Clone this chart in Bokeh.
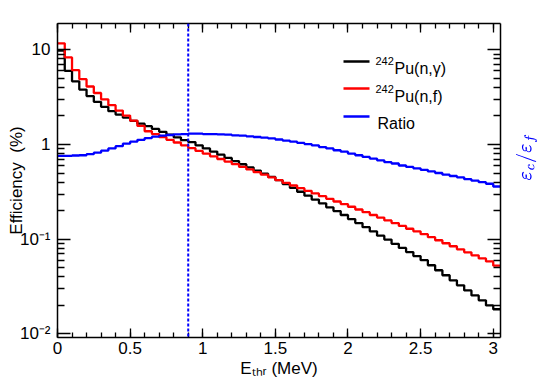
import math
from bokeh.plotting import figure
from bokeh.models import (Range1d, LinearAxis, LogAxis, FixedTicker, Span, Label,
                          BoxAnnotation, CustomJSTickFormatter, TeX)
from bokeh.embed import file_html
from bokeh.resources import INLINE

# ---------------- data ----------------
bin_width = 0.05
bin_lo = [round(i * bin_width, 2) for i in range(61)]   # lower bin edges (MeV)

eff_ng = [9.8, 6.0, 4.65, 3.8, 3.25, 2.82, 2.50, 2.25, 2.07, 1.92,
          1.78, 1.66, 1.56, 1.46, 1.36, 1.27, 1.19, 1.11, 1.06, 0.98,
          0.91, 0.843, 0.780, 0.722, 0.669, 0.619, 0.574, 0.531, 0.492, 0.455,
          0.42, 0.382, 0.348, 0.317, 0.288, 0.262, 0.239, 0.217, 0.198, 0.180,
          0.163, 0.148, 0.134, 0.121, 0.109, 0.099, 0.0894, 0.0809, 0.0732, 0.0663,
          0.060, 0.0531, 0.0470, 0.0416, 0.0368, 0.0326, 0.0288, 0.0255, 0.0226, 0.0200,
          0.0182]

eff_nf = [11.7, 8.3, 6.1, 4.9, 4.1, 3.5, 3.0, 2.6, 2.28, 2.02,
          1.79, 1.57, 1.38, 1.29, 1.20, 1.12, 1.05, 0.98, 0.915, 0.855,
          0.80, 0.75, 0.703, 0.66, 0.62, 0.58, 0.545, 0.51, 0.48, 0.45,
          0.42, 0.394, 0.369, 0.346, 0.324, 0.304, 0.285, 0.267, 0.25, 0.235,
          0.22, 0.206, 0.193, 0.18, 0.169, 0.158, 0.148, 0.138, 0.129, 0.121,
          0.113, 0.105, 0.0975, 0.0906, 0.0842, 0.0782, 0.0727, 0.0675, 0.0627, 0.0583,
          0.0525]

ratio = [0.76, 0.76, 0.765, 0.77, 0.79, 0.82, 0.86, 0.91, 0.96, 1.02,
         1.07, 1.12, 1.17, 1.21, 1.24, 1.26, 1.28, 1.29, 1.30, 1.30,
         1.29, 1.29, 1.28, 1.27, 1.25, 1.24, 1.22, 1.20, 1.18, 1.16,
         1.13, 1.10, 1.07, 1.04, 1.01, 0.98, 0.94, 0.91, 0.87, 0.84,
         0.80, 0.77, 0.74, 0.71, 0.68, 0.65, 0.63, 0.60, 0.58, 0.56,
         0.54, 0.52, 0.50, 0.48, 0.465, 0.45, 0.43, 0.415, 0.40, 0.385,
         0.36]

threshold = 0.9

x_ticks = [0.0, 0.5, 1.0, 1.5, 2.0, 2.5, 3.0]
x_tick_labels = ["0", "0.5", "1", "1.5", "2", "2.5", "3"]
x_minor = [round(0.1 * i, 1) for i in range(31)]
y_ticks = [0.01, 0.1, 1.0, 10.0]
y_tick_labels = ["10\u207b\u00b2", "10\u207b\u00b9", "1", "10"]
y_minor = [m * 10.0 ** k for k in (-2, -1, 0, 1) for m in range(2, 10)]

x_title = "E\u209c\u2095\u1d63 (MeV)"
y_title = "Efficiency\u00a0\u00a0(%)"
ratio_title = r"\varepsilon_{c}/\varepsilon_{f}"

FONT = "Liberation Sans"

# ---------------- figure ----------------
p = figure(width=556, height=387, output_backend="svg", toolbar_location=None,
           y_axis_type="log", x_range=Range1d(0, 3.05), y_range=Range1d(0.00916, 18.96),
           min_border_left=57, min_border_right=56, min_border_top=23, min_border_bottom=50)
p.outline_line_color = None
p.xgrid.visible = False
p.ygrid.visible = False
p.background_fill_color = "white"
p.border_fill_color = "white"

edges = bin_lo + [round(bin_lo[-1] + bin_width, 2)]
def stepped(v):
    return list(v) + [v[-1]]

p.step(edges, stepped(eff_ng), mode="after", line_color="black", line_width=2.3)
p.step(edges, stepped(eff_nf), mode="after", line_color="#ff0000", line_width=2.3)
p.step(edges, stepped(ratio), mode="after", line_color="#0000ff", line_width=2.3)

p.add_layout(Span(location=threshold, dimension="height", line_color="#0000ff",
                  line_dash="3 2", line_width=2))

def label_fmt(tvals, tlabels):
    return CustomJSTickFormatter(args=dict(tv=tvals, tl=tlabels), code="""
        for (let i = 0; i < tv.length; i++) {
            if (Math.abs(tv[i] - tick) <= 1e-9 * Math.max(1, Math.abs(tv[i]))) return tl[i];
        }
        return "";
    """)

blank_fmt = CustomJSTickFormatter(code="return '';")

def style_axis(ax, major_in, minor_in):
    ax.axis_line_color = "black"
    ax.axis_line_width = 1.5
    ax.major_tick_line_color = "black"
    ax.minor_tick_line_color = "black"
    ax.major_tick_line_width = 1.3
    ax.minor_tick_line_width = 1.3
    ax.major_tick_in = major_in
    ax.major_tick_out = 0
    ax.minor_tick_in = minor_in
    ax.minor_tick_out = 0
    ax.major_label_text_font = FONT
    ax.major_label_text_font_size = "17px"
    ax.major_label_text_color = "black"
    ax.axis_label_text_font = FONT
    ax.axis_label_text_font_size = "17px"
    ax.axis_label_text_font_style = "normal"
    ax.axis_label_text_color = "black"

xa = p.xaxis[0]
xa.ticker = FixedTicker(ticks=x_ticks, minor_ticks=x_minor)
xa.formatter = label_fmt(x_ticks, x_tick_labels)
style_axis(xa, 9, 5)
xa.major_label_standoff = 4
xa.axis_label = x_title
xa.axis_label_standoff = 2

ya = p.yaxis[0]
ya.ticker = FixedTicker(ticks=y_ticks, minor_ticks=y_minor)
ya.formatter = label_fmt(y_ticks, y_tick_labels)
style_axis(ya, 13, 7)
ya.major_label_standoff = 7
ya.axis_label = y_title
ya.axis_label_standoff = -9

top = LinearAxis(ticker=FixedTicker(ticks=x_ticks, minor_ticks=x_minor), formatter=blank_fmt)
style_axis(top, 9, 5)
top.major_label_text_font_size = "0px"
top.major_label_standoff = 0
p.add_layout(top, "above")

right = LogAxis(ticker=FixedTicker(ticks=y_ticks, minor_ticks=y_minor), formatter=blank_fmt)
style_axis(right, 13, 7)
right.major_label_text_font_size = "0px"
right.major_label_standoff = 0
right.axis_label = TeX(text=ratio_title)
right.axis_label_text_color = "#0000ff"
right.axis_label_text_font_size = "16px"
right.axis_label_standoff = 26
if "axis_label_orientation" in right.properties():
    right.axis_label_orientation = math.pi / 2
p.add_layout(right, "right")

def mk(x, y, text, size="17px", color="black"):
    return Label(x=x, y=y, x_units="screen", y_units="screen", text=text,
                 text_font=FONT, text_font_size=size, text_color=color,
                 text_align="left", text_baseline="alphabetic")

# legend (inside the frame)
legend_rows = [("black", "242", "Pu(n,\u03b3)", 276, 269),
               ("#ff0000", "242", "Pu(n,f)", 249, 241),
               ("#0000ff", "", "Ratio", 221, 214)]
for color, sup, txt, ly, by in legend_rows:
    p.add_layout(BoxAnnotation(left=286, right=312, bottom=ly - 1.2, top=ly + 1.2,
                               left_units="screen", right_units="screen",
                               bottom_units="screen", top_units="screen",
                               fill_color=color, fill_alpha=1.0, line_color=None))
    if sup:
        p.add_layout(mk(318, by + 8, sup, size="11px"))
        p.add_layout(mk(337, by, txt, size="16px"))
    else:
        p.add_layout(mk(320, by, txt, size="16px"))

open("out.html", "w").write(file_html(p, INLINE))
